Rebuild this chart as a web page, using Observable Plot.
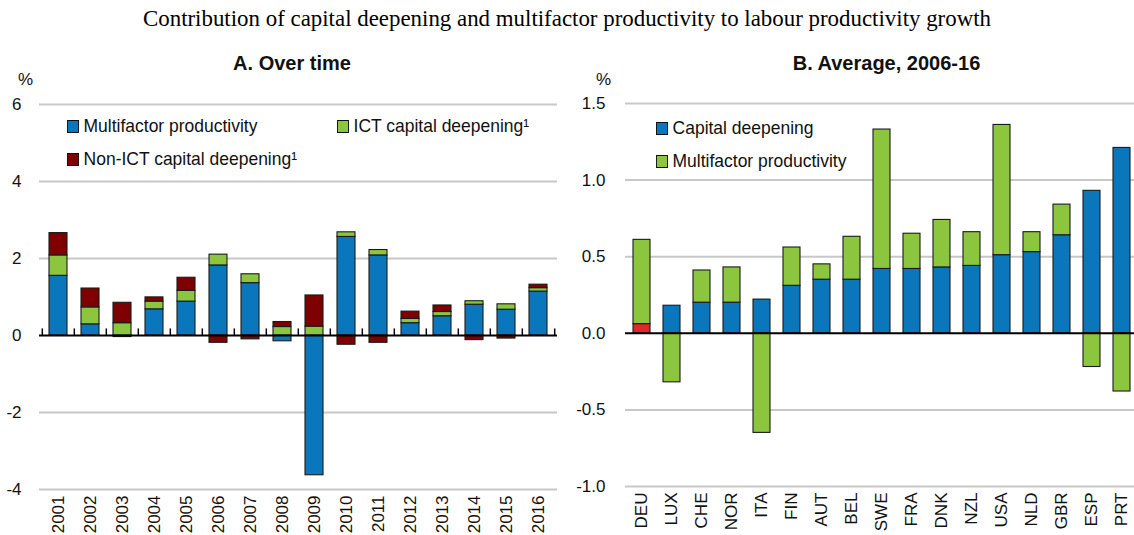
<!DOCTYPE html>
<html>
<head>
<meta charset="utf-8">
<script src="https://cdn.jsdelivr.net/npm/d3@7"></script>
<script src="https://cdn.jsdelivr.net/npm/@observablehq/plot@0.6"></script>
<style>
  html, body { margin: 0; padding: 0; background: #fff; overflow: hidden; }
  #wrap { position: relative; width: 1134px; height: 535px; overflow: hidden; background: #fff; }
  .narrow { font-family: "Liberation Sans Narrow", "Arial Narrow", "Liberation Sans", Arial, sans-serif; color: #111; }
  #title { position: absolute; top: 6px; left: 0; width: 1134px; text-align: center;
           font-family: "Liberation Serif", "Times New Roman", serif; font-size: 22.9px; color: #000; }
  .ptitle { position: absolute; top: 52px; font-weight: bold; font-size: 20px; text-align: center; }
  .pct { position: absolute; top: 70px; font-size: 17px; }
  .leg { position: absolute; font-size: 19px; white-space: nowrap; line-height: 20px; transform: scaleX(0.92); transform-origin: left center; }
  .sw { display: inline-block; width: 11px; height: 11px; border: 1px solid #111; margin-right: 5px; vertical-align: -1px; }
  .plot { position: absolute; top: 40px; }
</style>
</head>
<body>
<div id="wrap">
  <div id="title">Contribution of capital deepening and multifactor productivity to labour productivity growth</div>
  <div class="ptitle narrow" style="left:33px;width:518px;">A. Over time</div>
  <div class="ptitle narrow" style="left:629px;width:515px;">B. Average, 2006-16</div>
  <div class="pct narrow" style="left:18px;">%</div>
  <div class="pct narrow" style="left:596px;">%</div>
  <div id="legA"></div>
  <div id="legB"></div>
  <div id="plotA" class="plot" style="left:0px;"></div>
  <div id="plotB" class="plot" style="left:570px;"></div>
</div>
<script>
// ---------- Panel A data ----------
const years = ["2001","2002","2003","2004","2005","2006","2007","2008","2009","2010","2011","2012","2013","2014","2015","2016"];
const seriesA = ["Multifactor productivity", "ICT capital deepening¹", "Non-ICT capital deepening¹"];
const mfpA   = [1.55, 0.29, -0.04, 0.68, 0.88, 1.82, 1.36, -0.15, -3.63, 2.56, 2.08, 0.32, 0.50, 0.80, 0.67, 1.14];
const ictA   = [0.53, 0.44,  0.32, 0.20, 0.28, 0.28, 0.23,  0.22,  0.23, 0.12, 0.14, 0.11, 0.11, 0.09, 0.14, 0.09];
const nonIctA= [0.58, 0.49,  0.53, 0.11, 0.34,-0.19,-0.10,  0.13,  0.81,-0.24,-0.19, 0.19, 0.17,-0.12,-0.08, 0.09];
const yTicksA = [-4, -2, 0, 2, 4, 6];

// ---------- Panel B data ----------
const countries = ["DEU","LUX","CHE","NOR","ITA","FIN","AUT","BEL","SWE","FRA","DNK","NZL","USA","NLD","GBR","ESP","PRT"];
const seriesB = ["Capital deepening", "Multifactor productivity"];
const capDeepB = [0.06, 0.18, 0.20, 0.20, 0.22, 0.31, 0.35, 0.35, 0.42, 0.42, 0.43, 0.44, 0.51, 0.53, 0.64, 0.93, 1.21];
const mfpB     = [0.55,-0.32, 0.21, 0.23,-0.65, 0.25, 0.10, 0.28, 0.91, 0.23, 0.31, 0.22, 0.85, 0.13, 0.20,-0.22,-0.38];
const yTicksB = [-1.0, -0.5, 0.0, 0.5, 1.0, 1.5];
const highlight = "DEU";

// ---------- styles ----------
const BLUE = "#0a77bd", GREEN = "#8cc63f", DARKRED = "#7f0000", RED = "#e3262b";
const GRID = "#c8c8c8";
const FONT = '"Liberation Sans Narrow", "Arial Narrow", "Liberation Sans", Arial, sans-serif';

// ---------- tidy tables ----------
const tableA = years.flatMap((y, i) => [
  {year: y, s: seriesA[0], v: mfpA[i]},
  {year: y, s: seriesA[1], v: ictA[i]},
  {year: y, s: seriesA[2], v: nonIctA[i]}
]);
const tableB = countries.flatMap((c, i) => [
  {c, s: seriesB[0], v: capDeepB[i]},
  {c, s: seriesB[1], v: mfpB[i]}
]);

// ---------- Panel A ----------
const WA = 560, HA = 495, mLA = 39, mRA = 3;
const stepA = (WA - mLA - mRA) / years.length;
const plotA = Plot.plot({
  width: WA, height: HA,
  marginLeft: mLA, marginRight: mRA, marginTop: 64, marginBottom: 46,
  style: {fontFamily: FONT, background: "transparent", color: "#111", overflow: "visible"},
  x: {domain: years, paddingInner: 0.44, paddingOuter: 0.22},
  y: {domain: [-4, 6]},
  color: {domain: seriesA, range: [BLUE, GREEN, DARKRED]},
  marks: [
    Plot.gridY(yTicksA.filter(d => d !== 0), {stroke: GRID, strokeOpacity: 1, strokeWidth: 2}),
    Plot.barY(tableA, Plot.stackY({x: "year", y: "v", fill: "s", stroke: "#1a1a1a", strokeWidth: 1.1})),
    Plot.ruleY([0], {stroke: "#000", strokeWidth: 2}),
    Plot.ruleX(years, {x: d => d, y1: 0, y2: 0.17, dx: -stepA / 2, stroke: "#000", strokeWidth: 1.5}),
    Plot.ruleX(years.slice(-1), {x: d => d, y1: 0, y2: 0.17, dx: stepA / 2, stroke: "#000", strokeWidth: 1.5}),
    Plot.axisY(yTicksA, {tickSize: 0, tickPadding: 18, fontSize: 17, tickFormat: d => String(d), label: null}),
    Plot.axisX({tickSize: 0, tickPadding: 6, tickRotate: -90, fontSize: 17, label: null})
  ]
});
document.getElementById("plotA").appendChild(plotA);

// ---------- Panel B ----------
const WB = 564, HB = 495, mLB = 55;
const plotB = Plot.plot({
  width: WB, height: HB,
  marginLeft: mLB, marginRight: 0, marginTop: 63, marginBottom: 49,
  style: {fontFamily: FONT, background: "transparent", color: "#111", overflow: "visible"},
  x: {domain: countries, range: [mLB, 568], paddingInner: 0.45, paddingOuter: 0.2},
  y: {domain: [-1, 1.5]},
  color: {type: "identity"},
  marks: [
    Plot.gridY(yTicksB.filter(d => d !== 0), {stroke: GRID, strokeOpacity: 1, strokeWidth: 2}),
    Plot.barY(tableB, Plot.stackY({
      x: "c", y: "v",
      fill: d => d.s === seriesB[0] ? (d.c === highlight ? RED : BLUE) : GREEN,
      stroke: "#1a1a1a", strokeWidth: 1.1
    })),
    Plot.ruleY([0], {stroke: "#000", strokeWidth: 2}),
    Plot.axisY(yTicksB, {tickSize: 0, tickPadding: 20, fontSize: 17, tickFormat: d => d.toFixed(1), label: null}),
    Plot.axisX({tickSize: 0, tickPadding: 6, tickRotate: -90, fontSize: 17, label: null})
  ]
});
document.getElementById("plotB").appendChild(plotB);

// ---------- Legends ----------
function legendItem(parent, text, color, left, top) {
  const d = document.createElement("div");
  d.className = "leg narrow";
  d.style.left = left + "px";
  d.style.top = top + "px";
  const s = document.createElement("span");
  s.className = "sw";
  s.style.background = color;
  d.appendChild(s);
  d.appendChild(document.createTextNode(text));
  parent.appendChild(d);
}
const legA = document.getElementById("legA");
const colA = [BLUE, GREEN, DARKRED];
legendItem(legA, seriesA[0], colA[0], 67, 116);
legendItem(legA, seriesA[1], colA[1], 337, 116);
legendItem(legA, seriesA[2], colA[2], 67, 149);
const legB = document.getElementById("legB");
legendItem(legB, seriesB[0], BLUE, 656, 118);
legendItem(legB, seriesB[1], GREEN, 656, 151);
</script>
</body>
</html>
